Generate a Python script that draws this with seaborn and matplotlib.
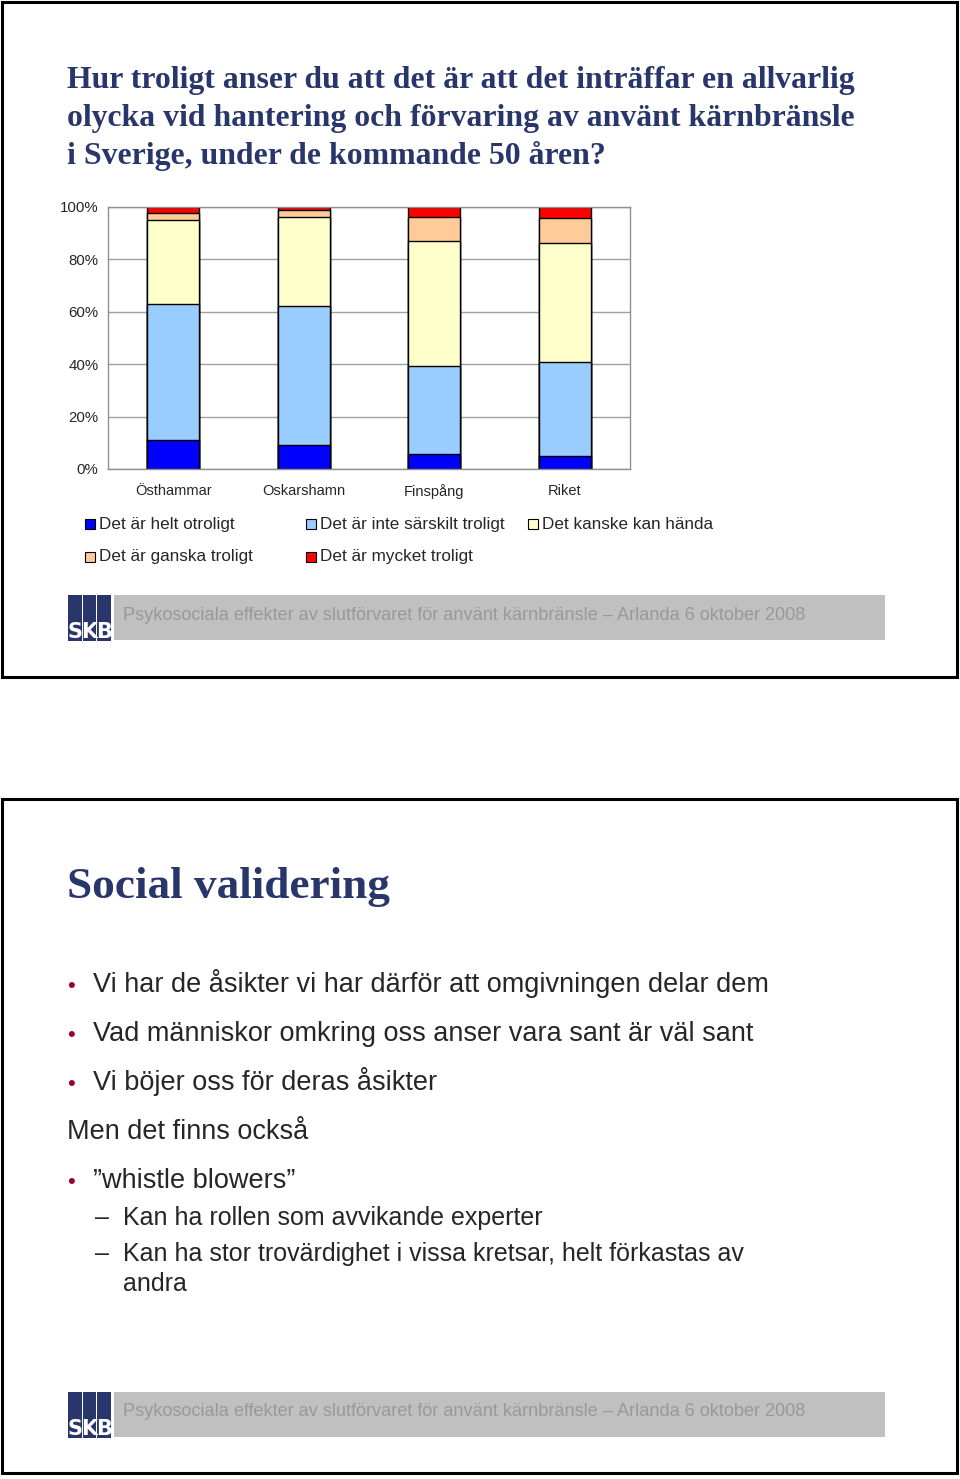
import numpy as np
import pandas as pd
import seaborn as sns
import matplotlib.pyplot as plt
from matplotlib.patches import Rectangle

# data (percent of answers)
categories = ["Östhammar", "Oskarshamn", "Finspång", "Riket"]
series = ["Det är helt otroligt", "Det är inte särskilt troligt", "Det kanske kan hända",
          "Det är ganska troligt", "Det är mycket troligt"]
helt_otroligt = [10.9, 9.0, 5.9, 4.8]
inte_sarskilt = [52.1, 53.3, 33.5, 36.2]
kanske = [32.0, 33.8, 47.8, 45.1]
ganska = [2.8, 2.8, 8.9, 9.8]
mycket = [2.2, 1.1, 3.9, 4.1]
colors = ["#0000FF", "#99CCFF", "#FFFFCC", "#FFCC99", "#FF0000"]
yticks = [0, 20, 40, 60, 80, 100]

title_lines = ["Hur troligt anser du att det är att det inträffar en allvarlig",
               "olycka vid hantering och förvaring av använt kärnbränsle",
               "i Sverige, under de kommande 50 åren?"]
footer = "Psykosociala effekter av slutförvaret för använt kärnbränsle – Arlanda 6 oktober 2008"
slide2_title = "Social validering"
bullets = ["Vi har de åsikter vi har därför att omgivningen delar dem",
           "Vad människor omkring oss anser vara sant är väl sant",
           "Vi böjer oss för deras åsikter"]
plain_line = "Men det finns också"
bullet2 = "”whistle blowers”"
subitems = ["Kan ha rollen som avvikande experter",
            "Kan ha stor trovärdighet i vissa kretsar, helt förkastas av\nandra"]

df = pd.DataFrame({"Kommun": categories, series[0]: helt_otroligt, series[1]: inte_sarskilt,
                   series[2]: kanske, series[3]: ganska, series[4]: mycket})
cum = df[series].cumsum(axis=1)
cum["Kommun"] = df["Kommun"]

sns.set_style("white")
plt.rcParams['font.family'] = ['Liberation Sans', 'DejaVu Sans']

W, H = 960, 1479
fig = plt.figure(figsize=(W / 100, H / 100), dpi=100)


def fx(x):
    return x / W


def fy(y):
    return 1 - y / H


navy = "#29366B"
serif = ['Liberation Serif', 'DejaVu Serif']

# slide borders
for top, bot in [(2, 677), (799, 1473)]:
    fig.patches.append(Rectangle((fx(2), fy(bot)), fx(957) - fx(2), fy(top) - fy(bot),
                                 transform=fig.transFigure, fill=False, edgecolor="black",
                                 linewidth=2.2))

# title of slide 1
for i, line in enumerate(title_lines):
    fig.text(fx(67), fy(88 + 38 * i), line, fontsize=22.9, fontweight="bold",
             color=navy, family=serif, va="baseline")

# chart
ax = fig.add_axes([fx(108), fy(469), fx(630) - fx(108), fy(207) - fy(469)])
for s, c in reversed(list(zip(series, colors))):
    sns.barplot(data=cum, x="Kommun", y=s, color=c, saturation=1, width=0.4,
                edgecolor="black", linewidth=1, ax=ax)
ax.set_xlim(-0.5, 3.5)
ax.set_ylim(0, 100)
ax.set_yticks(yticks)
ax.set_yticklabels([f"{v}%" for v in yticks])
ax.set_xlabel("")
ax.set_ylabel("")
ax.set_axisbelow(True)
ax.yaxis.grid(True, color="#A0A0A0", linewidth=1)
for sp in ax.spines.values():
    sp.set_color("#909090")
    sp.set_linewidth(1)
ax.set_xticks(np.arange(-0.5, 4, 1), minor=True)
ax.tick_params(axis="x", which="major", length=0, pad=10.5, labelsize=10.5)
ax.tick_params(axis="x", which="minor", length=5, color="#909090", direction="out")
ax.tick_params(axis="y", length=4, color="#909090", direction="out", pad=3, labelsize=10.8)

# legend, laid out as in the slide
legend_pos = [(85, 524), (306, 524), (528, 524), (85, 557), (306, 557)]
for (lx, ly), s, c in zip(legend_pos, series, colors):
    fig.patches.append(Rectangle((fx(lx), fy(ly + 5)), 10 / W, 10 / H, transform=fig.transFigure,
                                 facecolor=c, edgecolor="black", linewidth=0.8))
    fig.text(fx(lx + 14), fy(ly), s, fontsize=12.3, va="center")


def footer_block(y0):
    # SKB logo
    cols = [(68, 82), (83, 96), (97, 111)]
    for (a, b), letter in zip(cols, "SKB"):
        fig.patches.append(Rectangle((fx(a), fy(y0 + 46)), (b - a) / W, 46 / H,
                                     transform=fig.transFigure, facecolor=navy, edgecolor="none"))
        fig.text(fx((a + b) / 2), fy(y0 + 43), letter, fontsize=15, fontweight="bold",
                 color="white", ha="center", va="baseline",
                 family=['DejaVu Sans Condensed', 'DejaVu Sans'])
    fig.patches.append(Rectangle((fx(114), fy(y0 + 45)), (885 - 114) / W, 45 / H,
                                 transform=fig.transFigure, facecolor="#C0C0C0", edgecolor="none"))
    fig.text(fx(123), fy(y0 + 20), footer, fontsize=13.1, color="#999999", va="center")


footer_block(595)
footer_block(1392)

# slide 2
fig.text(fx(67), fy(898), slide2_title, fontsize=32.6, fontweight="bold", color=navy,
         family=serif, va="baseline")
bullet_color = "#990033"
big = 19.5
small = 18
for i, b in enumerate(bullets):
    yb = 992 + 49 * i
    fig.text(fx(67), fy(yb), "•", fontsize=16, color=bullet_color, va="baseline")
    fig.text(fx(93), fy(yb), b, fontsize=big, va="baseline")
fig.text(fx(67), fy(1139), plain_line, fontsize=big, va="baseline")
fig.text(fx(67), fy(1188), "•", fontsize=16, color=bullet_color, va="baseline")
fig.text(fx(93), fy(1188), bullet2, fontsize=big, va="baseline")
fig.text(fx(95), fy(1225), "–", fontsize=small, va="baseline")
fig.text(fx(123), fy(1225), subitems[0], fontsize=small, va="baseline")
fig.text(fx(95), fy(1261), "–", fontsize=small, va="baseline")
fig.text(fx(123), fy(1261), subitems[1].split("\n")[0], fontsize=small, va="baseline")
fig.text(fx(123), fy(1291), subitems[1].split("\n")[1], fontsize=small, va="baseline")

fig.savefig("out.png", dpi=100)
